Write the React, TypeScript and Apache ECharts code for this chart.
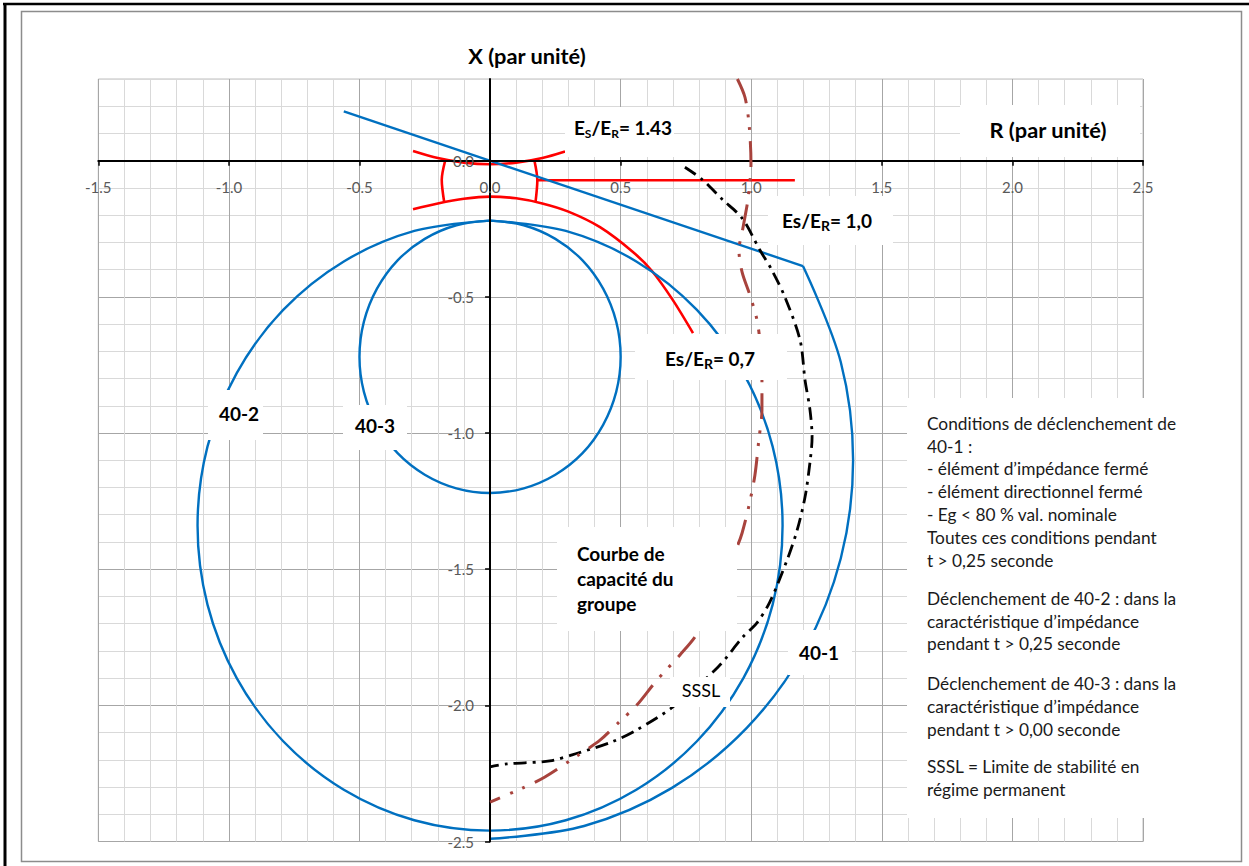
import { useEffect, useRef } from "react";
import * as echarts from "echarts";

const FONT = "Lato";

// ---------- Axes ----------
const xMin = -1.5, xMax = 2.5, xMajor = 0.5, xMinor = 0.1;
const yMin = -2.5, yMax = 0.3, yMajor = 0.5, yMinor = 0.1;
const yTickValues = [-2.5, -2.0, -1.5, -1.0, -0.5, 0.0];
const xTickValues = [-1.5, -1.0, -0.5, 0.0, 0.5, 1.0, 1.5, 2.0, 2.5];

// ---------- Series data: [R, X] (par unité) ----------
// 40-1 : élément directionnel (droite) + arc d'impédance
const relay401Line = [[-0.56, 0.181], [1.198, -0.387]];
const relay401Arc = [
  [1.198, -0.387], [1.343, -0.74], [1.39, -1.1], [1.343, -1.46], [1.204, -1.795],
  [0.983, -2.083], [0.695, -2.304], [0.36, -2.443], [0, -2.49],
];
// 40-2 : grand cercle
const relay402 = [
  [0, -0.22], [0.29, -0.258], [0.56, -0.37], [0.792, -0.548], [0.97, -0.78], [1.082, -1.05],
  [1.12, -1.34], [1.082, -1.63], [0.97, -1.9], [0.792, -2.132], [0.56, -2.31], [0.29, -2.422],
  [0, -2.46], [-0.29, -2.422], [-0.56, -2.31], [-0.792, -2.132], [-0.97, -1.9], [-1.082, -1.63],
  [-1.12, -1.34], [-1.082, -1.05], [-0.97, -0.78], [-0.792, -0.548], [-0.56, -0.37], [-0.29, -0.258],
  [0, -0.22],
];
// 40-3 : petit cercle
const relay403 = [
  [0, -0.22], [0.129, -0.237], [0.25, -0.287], [0.354, -0.366], [0.433, -0.47], [0.483, -0.591],
  [0.5, -0.72], [0.483, -0.849], [0.433, -0.97], [0.354, -1.074], [0.25, -1.153], [0.129, -1.203],
  [0, -1.22], [-0.129, -1.203], [-0.25, -1.153], [-0.354, -1.074], [-0.433, -0.97], [-0.483, -0.849],
  [-0.5, -0.72], [-0.483, -0.591], [-0.433, -0.47], [-0.354, -0.366], [-0.25, -0.287], [-0.129, -0.237],
  [0, -0.22],
];
// Es/Er loci (red)
const ratio143 = [[-0.295, 0.036], [-0.2, 0.01], [-0.1, -0.007], [0, -0.013], [0.1, -0.007], [0.2, 0.01], [0.287, 0.034]];
const ratio07 = [
  [-0.295, -0.178], [-0.2, -0.157], [-0.1, -0.14], [0, -0.132], [0.1, -0.138], [0.2, -0.157],
  [0.3, -0.187], [0.421, -0.244], [0.547, -0.335], [0.62, -0.405], [0.7, -0.512], [0.777, -0.633],
];
const ratio10 = [[0.183, -0.072], [1.167, -0.072]];
const ratioLeft = [[-0.172, 0.0], [-0.185, -0.07], [-0.176, -0.15]];
const ratioRight = [[0.17, 0.0], [0.181, -0.072], [0.174, -0.152]];
// SSSL (black dash-dot)
const sssl = [
  [0.746, -0.024], [0.811, -0.068], [0.888, -0.141], [0.965, -0.211], [1.033, -0.328], [1.079, -0.402],
  [1.129, -0.501], [1.187, -0.659], [1.206, -0.806], [1.225, -0.916], [1.233, -1.015], [1.225, -1.107],
  [1.206, -1.235], [1.176, -1.356], [1.137, -1.467], [1.071, -1.621], [1.021, -1.698], [0.968, -1.749],
  [0.873, -1.859], [0.7, -2.006], [0.562, -2.09], [0.467, -2.134], [0.337, -2.175], [0.229, -2.204],
  [0.065, -2.215], [0, -2.226],
];
// Courbe de capacité du groupe (brown dash-dot-dot)
const capability = [
  [0.947, 0.3], [0.976, 0.233], [0.992, 0.13], [0.999, -0.009], [0.988, -0.138], [0.968, -0.248],
  [0.953, -0.329], [0.965, -0.409], [0.995, -0.494], [1.022, -0.585], [1.037, -0.695], [1.041, -0.806],
  [1.041, -0.916], [1.029, -1.026], [1.014, -1.155], [0.992, -1.264], [0.965, -1.367], [0.945, -1.419],
  [0.796, -1.731], [0.727, -1.815], [0.639, -1.907], [0.562, -1.999], [0.49, -2.065], [0.421, -2.128],
  [0.337, -2.183], [0.21, -2.263], [0.126, -2.303], [0, -2.355],
];

// ---------- Texts ----------
const legendParagraphs = [
  ["Conditions de déclenchement de", "40-1 :", "- élément d’impédance fermé", "- élément directionnel fermé", "- Eg < 80 % val. nominale", "Toutes ces conditions pendant", "t > 0,25 seconde"],
  ["Déclenchement de 40-2 : dans la", "caractéristique d’impédance", "pendant t > 0,25 seconde"],
  ["Déclenchement de 40-3 : dans la", "caractéristique d’impédance", "pendant t > 0,00 seconde"],
  ["SSSL = Limite de stabilité en", "régime permanent"],
];

const BLUE = "#0070C0";
const RED = "#FF0000";
const BROWN = "#A8433D";

// grid layout (pixels)
const GRID_LEFT = 98.3, GRID_TOP = 79, GRID_W = 1044.7, GRID_H = 762.5;

function line(name: string, data: number[][], color: string, width: number, type: any, smooth: number | boolean, z = 3) {
  return {
    name, type: "line", data, xAxisIndex: 0, yAxisIndex: 0, showSymbol: false, symbol: "none",
    smooth, silent: true, z, clip: true,
    lineStyle: { color, width, type, cap: "butt", join: "round" },
  };
}

function boxRect(x: number, y: number, w: number, h: number) {
  return { type: "rect", z: 100, silent: true, shape: { x, y, width: w, height: h }, style: { fill: "#fff" } };
}

function boldText(x: number, y: number, text: string, size = 19, align = "center", extra: any = {}) {
  return {
    type: "text", z: 101, silent: true, x, y,
    style: {
      text, fill: "#000", fontFamily: FONT, fontWeight: "bold", fontSize: size,
      align, verticalAlign: "middle", textAlign: align, textVerticalAlign: "middle", ...extra,
    },
  };
}

const richRatio = {
  a: { fontFamily: FONT, fontWeight: "bold", fontSize: 19, lineHeight: 24, fill: "#000" },
  s: { fontFamily: FONT, fontWeight: "bold", fontSize: 12, lineHeight: 10, verticalAlign: "bottom", fill: "#000" },
  r: { fontFamily: FONT, fontWeight: "bold", fontSize: 14, lineHeight: 20, verticalAlign: "bottom", fill: "#000" },
};

function buildOption() {
  const fmt = (v: number) => (Math.abs(v / 0.5 - Math.round(v / 0.5)) < 1e-6 ? v.toFixed(1) : "");
  const minorColors = ["#a6a6a6", "#d9d9d9", "#d9d9d9", "#d9d9d9", "#d9d9d9"];

  // label axes are shifted to cross at zero (R = 0, X = 0)
  const xLabelOffset = -GRID_H * (0 - yMin) / (yMax - yMin);
  const yLabelOffset = -GRID_W * (0 - xMin) / (xMax - xMin);

  const legendTops = [411.9, 586.9, 672.6, 755.3];
  const legendTexts = legendParagraphs.map((p, i) => ({
    type: "text", z: 101, silent: true, x: 927, y: legendTops[i],
    style: {
      text: p.join("\n"), fill: "#1a1a1a", fontFamily: FONT, fontSize: 17.3, lineHeight: 22.8,
      align: "left", verticalAlign: "top", textAlign: "left", textVerticalAlign: "top",
    },
  }));

  const graphics: any[] = [
    // frames
    { type: "rect", z: 0, silent: true, shape: { x: 21.5, y: 11.5, width: 1220, height: 850 }, style: { fill: "none", stroke: "#8c8c8c", lineWidth: 1.5 } },
    { type: "line", z: 0, silent: true, shape: { x1: 3, y1: 4, x2: 1249, y2: 4 }, style: { stroke: "#000", lineWidth: 2.5 } },
    { type: "line", z: 0, silent: true, shape: { x1: 5, y1: 3, x2: 5, y2: 866 }, style: { stroke: "#000", lineWidth: 3 } },
    // label boxes
    boxRect(565, 107, 109, 50),
    boxRect(768, 196, 125, 49),
    boxRect(635, 334, 152, 46),
    boxRect(557, 527, 180, 104),
    boxRect(208, 390, 55, 50),
    boxRect(343, 405, 64, 45),
    boxRect(788, 630, 64, 45),
    boxRect(670, 677, 60, 30),
    boxRect(960, 105, 180, 52),
    boxRect(907, 398, 333, 420),
    // titles
    boldText(527, 55, "X (par unité)", 21.8),
    boldText(1048, 129, "R (par unité)", 21.8),
    // ratio labels
    boldText(623, 127, "{a|E}{s|S}{a|/E}{s|R}{a|= 1.43}", 19, "center", { rich: richRatio }),
    boldText(827, 220, "{a|Es/E}{r|R}{a|= 1,0}", 19, "center", { rich: richRatio }),
    boldText(710, 358, "{a|Es/E}{r|R}{a|= 0,7}", 19, "center", { rich: richRatio }),
    // relay labels
    boldText(239, 413, "40-2", 19),
    boldText(375, 425, "40-3", 19),
    boldText(819, 652, "40-1", 19),
    boldText(701, 690, "SSSL", 18, "center", { fontWeight: "normal" }),
    {
      type: "text", z: 101, silent: true, x: 577, y: 540.5,
      style: {
        text: "Courbe de\ncapacité du\ngroupe", fill: "#000", fontFamily: FONT, fontWeight: "bold", fontSize: 19,
        lineHeight: 25, align: "left", verticalAlign: "top", textAlign: "left", textVerticalAlign: "top",
      },
    },
    ...legendTexts,
  ];

  const labelStyle = { color: "#595959", fontFamily: FONT, fontSize: 15, formatter: fmt };

  return {
    animation: false,
    backgroundColor: "#ffffff",
    grid: { left: GRID_LEFT, top: GRID_TOP, width: GRID_W, height: GRID_H, show: true, borderColor: "#bfbfbf", borderWidth: 1, containLabel: false },
    xAxis: [
      {
        type: "value", min: xMin, max: xMax, interval: xMajor, position: "bottom", z: 5,
        axisLine: { show: true, onZero: true, onZeroAxisIndex: 0, lineStyle: { color: "#000", width: 2 } },
        axisTick: { show: true, inside: false, length: 5, lineStyle: { color: "#000", width: 1.5 }, customValues: xTickValues },
        axisLabel: { show: false },
        splitLine: { show: false },
      },
      {
        type: "value", min: xMin, max: xMax, interval: xMinor, position: "top",
        axisLine: { show: false, onZero: false }, axisTick: { show: false }, axisLabel: { show: false },
        splitLine: { show: true, lineStyle: { color: minorColors, width: 1 } },
      },
      {
        type: "value", min: xMin, max: xMax, interval: xMajor, position: "bottom", offset: xLabelOffset, z: 6,
        axisLine: { show: false, onZero: false }, axisTick: { show: false }, splitLine: { show: false },
        axisLabel: { margin: 19, customValues: xTickValues, ...labelStyle },
      },
    ],
    yAxis: [
      {
        type: "value", min: yMin, max: yMax, interval: yMajor, position: "left", z: 5,
        axisLine: { show: true, onZero: true, onZeroAxisIndex: 0, lineStyle: { color: "#000", width: 2 } },
        axisTick: { show: true, inside: false, length: 5, lineStyle: { color: "#000", width: 1.5 }, customValues: yTickValues },
        axisLabel: { show: false },
        splitLine: { show: false },
      },
      {
        type: "value", min: yMin, max: yMax, interval: yMinor, position: "right",
        axisLine: { show: false, onZero: false }, axisTick: { show: false }, axisLabel: { show: false },
        splitLine: { show: true, lineStyle: { color: minorColors, width: 1 } },
      },
      {
        type: "value", min: yMin, max: yMax, interval: yMajor, position: "left", offset: yLabelOffset, z: 6,
        axisLine: { show: false, onZero: false }, axisTick: { show: false }, splitLine: { show: false },
        axisLabel: { margin: 16, customValues: yTickValues, ...labelStyle },
      },
    ],
    series: [
      line("Es/Er 1.43", ratio143, RED, 2.6, "solid", 0.3),
      line("Es/Er 0.7", ratio07, RED, 2.6, "solid", 0.3),
      line("Es/Er 1.0", ratio10, RED, 2.6, "solid", false),
      line("Es/Er gauche", ratioLeft, RED, 2.6, "solid", 0.3),
      line("Es/Er droite", ratioRight, RED, 2.6, "solid", 0.3),
      line("40-2", relay402, BLUE, 2.4, "solid", 0.35, 4),
      line("40-3", relay403, BLUE, 2.4, "solid", 0.35, 4),
      line("40-1 directionnel", relay401Line, BLUE, 2.4, "solid", false, 4),
      line("40-1", relay401Arc, BLUE, 2.4, "solid", 0.35, 4),
      line("SSSL", sssl, "#000", 2.8, [13, 6, 3, 6], 0.3, 5),
      line("Courbe de capacité du groupe", capability, BROWN, 3, [26, 11, 3, 10, 3, 11], 0.3, 6),
    ],
    graphic: { elements: graphics },
  };
}

export default function App() {
  const ref = useRef<HTMLDivElement>(null);
  useEffect(() => {
    const el = ref.current;
    if (!el) return;
    const chart = echarts.init(el, null, { renderer: "svg" });
    chart.setOption(buildOption() as any);
    return () => chart.dispose();
  }, []);
  return (
    <div
      ref={ref}
      style={{ position: "fixed", left: 0, top: 0, width: 1249, height: 866, background: "#fff" }}
    />
  );
}
